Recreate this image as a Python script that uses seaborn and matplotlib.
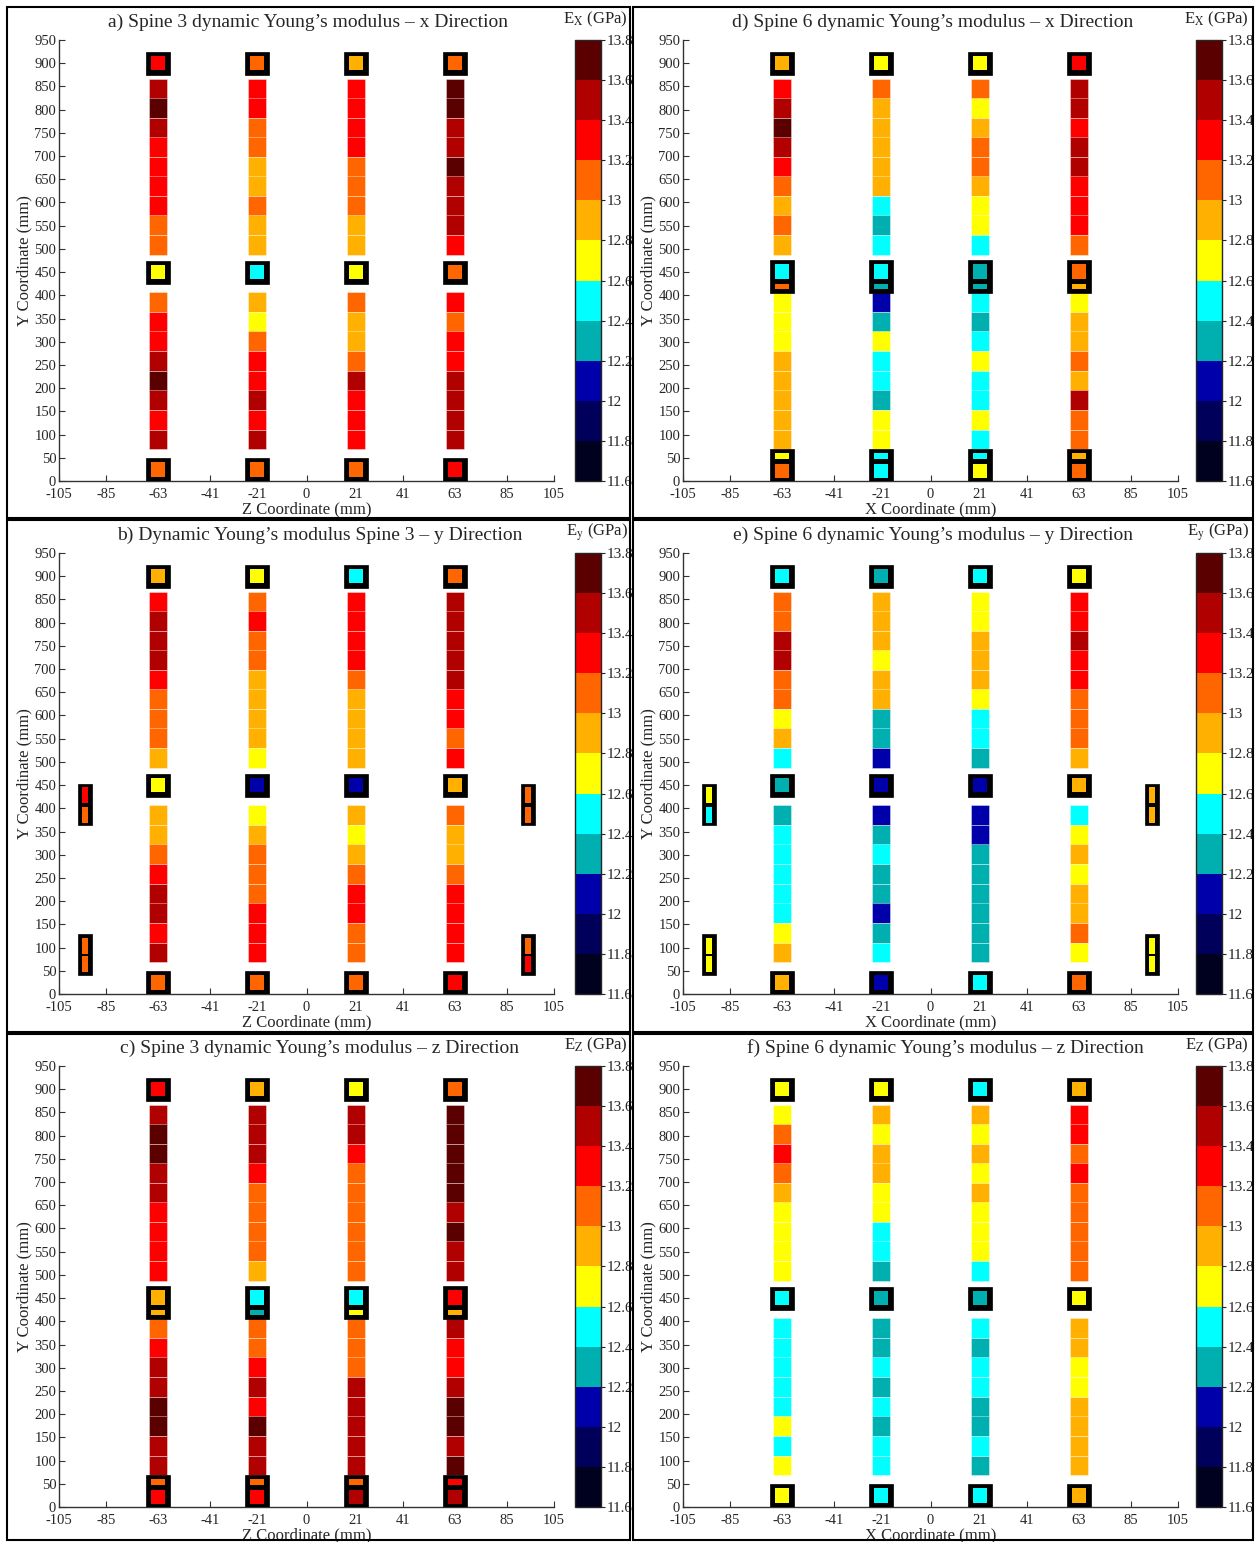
import matplotlib
matplotlib.use("Agg")
import matplotlib.pyplot as plt
from matplotlib.colors import ListedColormap, BoundaryNorm
from matplotlib.cm import ScalarMappable
from matplotlib.patches import Rectangle
import seaborn as sns

sns.set_style("ticks")
plt.rcParams['font.family'] = ['Liberation Serif', 'DejaVu Serif']
plt.rcParams['mathtext.fontset'] = 'stix'
plt.rcParams['axes.unicode_minus'] = False

# colour classes, 11.6 -> 13.8 GPa in 0.2 steps
LEVELS = [11.6, 11.8, 12.0, 12.2, 12.4, 12.6, 12.8, 13.0, 13.2, 13.4, 13.6, 13.8]
CLASS_COLORS = ['#00001f', '#00005a', '#0000aa', '#00afaf', '#00ffff', '#ffff00',
                '#ffb000', '#ff6600', '#ff0000', '#b00000', '#5a0000']

# measuring points (mm)
COLUMNS_X = [-63, -21, 21, 63]
UPPER_Y = [845, 803, 761, 719, 677, 635, 593, 551, 509]
LOWER_Y = [386, 343, 301, 258, 216, 174, 131, 89]
SIDE_X = [-94, 94]
XTICKS = [-105, -85, -63, -41, -21, 0, 21, 41, 63, 85, 105]

# values (GPa), per column, listed from top to bottom
A_UP = [[13.5, 13.7, 13.5, 13.3, 13.3, 13.3, 13.3, 13.1, 13.1],
        [13.3, 13.3, 13.1, 13.1, 12.9, 12.9, 13.1, 12.9, 12.9],
        [13.3, 13.3, 13.3, 13.3, 13.1, 13.1, 13.1, 12.9, 12.9],
        [13.7, 13.7, 13.5, 13.5, 13.7, 13.5, 13.5, 13.5, 13.3]]
A_LO = [[13.1, 13.3, 13.3, 13.5, 13.7, 13.5, 13.3, 13.5],
        [12.9, 12.7, 13.1, 13.3, 13.3, 13.5, 13.3, 13.5],
        [13.1, 12.9, 12.9, 13.1, 13.5, 13.3, 13.3, 13.3],
        [13.3, 13.1, 13.3, 13.3, 13.5, 13.5, 13.5, 13.5]]
A_TOP = [13.3, 13.1, 12.9, 13.1]
A_MID = [12.7, 12.5, 12.7, 13.1]
A_BOT = [13.1, 13.1, 13.1, 13.3]

B_UP = [[13.3, 13.5, 13.5, 13.5, 13.3, 13.1, 13.1, 13.1, 12.9],
        [13.1, 13.3, 13.1, 13.1, 12.9, 12.9, 12.9, 12.9, 12.7],
        [13.3, 13.3, 13.3, 13.3, 13.1, 12.9, 12.9, 12.9, 12.9],
        [13.5, 13.5, 13.5, 13.5, 13.5, 13.3, 13.3, 13.1, 13.3]]
B_LO = [[12.9, 12.9, 13.1, 13.3, 13.5, 13.5, 13.3, 13.5],
        [12.7, 12.9, 13.1, 13.1, 13.1, 13.3, 13.3, 13.3],
        [12.9, 12.7, 12.9, 13.1, 13.3, 13.3, 13.1, 13.1],
        [13.1, 12.9, 12.9, 13.1, 13.3, 13.3, 13.3, 13.3]]
B_TOP = [12.9, 12.7, 12.5, 13.1]
B_MID = [12.7, 12.1, 12.1, 12.9]
B_BOT = [13.1, 13.1, 13.1, 13.3]
B_SIDE_UP = [[13.3, 13.1], [13.1, 13.1]]   # left, right
B_SIDE_LO = [[13.1, 13.1], [13.1, 13.3]]

C_UP = [[13.5, 13.7, 13.7, 13.5, 13.5, 13.3, 13.3, 13.3, 13.3],
        [13.5, 13.5, 13.5, 13.3, 13.1, 13.1, 13.1, 13.1, 12.9],
        [13.5, 13.5, 13.3, 13.1, 13.1, 13.1, 13.1, 13.1, 13.1],
        [13.7, 13.7, 13.7, 13.7, 13.7, 13.5, 13.7, 13.5, 13.5]]
C_LO = [[13.1, 13.3, 13.5, 13.5, 13.7, 13.7, 13.5, 13.5],
        [13.1, 13.1, 13.3, 13.5, 13.3, 13.7, 13.5, 13.5],
        [13.1, 13.1, 13.1, 13.5, 13.5, 13.5, 13.5, 13.5],
        [13.5, 13.3, 13.3, 13.5, 13.7, 13.7, 13.5, 13.7]]
C_TOP = [13.3, 12.9, 12.7, 13.1]
C_MID = [12.9, 12.5, 12.5, 13.3]
C_MID_STRIP = [12.9, 12.3, 12.7, 12.9]
C_BOT = [13.3, 13.3, 13.5, 13.5]
C_BOT_STRIP = [13.1, 13.1, 13.1, 13.3]

D_UP = [[13.3, 13.5, 13.7, 13.5, 13.3, 13.1, 12.9, 13.1, 12.9],
        [13.1, 12.9, 12.9, 12.9, 12.9, 12.9, 12.5, 12.3, 12.5],
        [13.1, 12.7, 12.9, 13.1, 13.1, 12.9, 12.7, 12.7, 12.5],
        [13.5, 13.5, 13.3, 13.5, 13.5, 13.3, 13.3, 13.3, 13.1]]
D_LO = [[12.7, 12.7, 12.7, 12.9, 12.9, 12.9, 12.9, 12.9],
        [12.1, 12.3, 12.7, 12.5, 12.5, 12.3, 12.7, 12.7],
        [12.5, 12.3, 12.5, 12.7, 12.5, 12.5, 12.7, 12.5],
        [12.7, 12.9, 12.9, 13.1, 12.9, 13.5, 13.1, 13.1]]
D_TOP = [12.9, 12.7, 12.7, 13.3]
D_MID = [12.5, 12.5, 12.3, 13.1]
D_MID_STRIP = [13.1, 12.3, 12.3, 12.9]
D_BOT = [13.1, 12.5, 12.7, 13.1]
D_BOT_STRIP = [12.7, 12.5, 12.5, 12.9]

E_UP = [[13.1, 13.1, 13.5, 13.5, 13.1, 13.1, 12.7, 12.9, 12.5],
        [12.9, 12.9, 12.9, 12.7, 12.9, 12.9, 12.3, 12.3, 12.1],
        [12.7, 12.7, 12.9, 12.9, 12.9, 12.7, 12.5, 12.5, 12.3],
        [13.3, 13.3, 13.5, 13.3, 13.3, 13.1, 13.1, 13.1, 12.9]]
E_LO = [[12.3, 12.5, 12.5, 12.5, 12.5, 12.5, 12.7, 12.9],
        [12.1, 12.3, 12.5, 12.3, 12.3, 12.1, 12.3, 12.5],
        [12.1, 12.1, 12.3, 12.3, 12.3, 12.3, 12.3, 12.3],
        [12.5, 12.7, 12.9, 12.7, 12.9, 12.9, 13.1, 12.7]]
E_TOP = [12.5, 12.3, 12.5, 12.7]
E_MID = [12.3, 12.1, 12.1, 12.9]
E_BOT = [12.9, 12.1, 12.5, 13.1]
E_SIDE_UP = [[12.7, 12.5], [12.9, 12.9]]
E_SIDE_LO = [[12.7, 12.7], [12.7, 12.7]]

F_UP = [[12.7, 13.1, 13.3, 13.1, 12.9, 12.7, 12.7, 12.7, 12.7],
        [12.9, 12.7, 12.9, 12.9, 12.7, 12.7, 12.5, 12.5, 12.3],
        [12.9, 12.7, 12.9, 12.7, 12.9, 12.7, 12.7, 12.7, 12.5],
        [13.3, 13.3, 13.1, 13.3, 13.1, 13.1, 13.1, 13.1, 13.1]]
F_LO = [[12.5, 12.5, 12.5, 12.5, 12.5, 12.7, 12.5, 12.7],
        [12.3, 12.3, 12.5, 12.3, 12.5, 12.3, 12.5, 12.5],
        [12.5, 12.3, 12.5, 12.5, 12.3, 12.3, 12.5, 12.3],
        [12.9, 12.9, 12.7, 12.7, 12.9, 12.9, 12.9, 12.9]]
F_TOP = [12.7, 12.7, 12.5, 12.9]
F_MID = [12.5, 12.3, 12.3, 12.7]
F_BOT = [12.7, 12.5, 12.5, 12.9]

TITLES = ['a) Spine 3 dynamic Young\u2019s modulus \u2013 x Direction',
          'b) Dynamic Young\u2019s modulus Spine 3 \u2013 y Direction',
          'c) Spine 3 dynamic Young\u2019s modulus \u2013 z Direction',
          'd) Spine 6 dynamic Young\u2019s modulus \u2013 x Direction',
          'e) Spine 6 dynamic Young\u2019s modulus \u2013 y Direction',
          'f) Spine 6 dynamic Young\u2019s modulus \u2013 z Direction']
CB_LABELS = [r'E$_\mathrm{X}$ (GPa)', r'E$_\mathrm{y}$ (GPa)', r'E$_\mathrm{Z}$ (GPa)']

cmap = ListedColormap(sns.color_palette(CLASS_COLORS))
norm = BoundaryNorm(LEVELS, cmap.N)

W, H = 1255, 1542
fig = plt.figure(figsize=(W / 100, H / 100), dpi=100)


def frac(x0, y0, x1, y1):
    # pixel box (top-left origin) -> figure fraction
    return [x0 / W, 1 - y1 / H, (x1 - x0) / W, (y1 - y0) / H]


def col(v):
    return cmap(norm(v))


def box(ax, x, y0, y1, w_out=10):
    ax.bar(x, y1 - y0, width=w_out, bottom=y0, color='black',
           edgecolor='black', linewidth=0.5, zorder=3)


def fill(ax, x, yc, h, v, w_in=6.2):
    ax.bar(x, h, width=w_in, bottom=yc - h / 2, color=col(v),
           edgecolor='none', linewidth=0, zorder=4)


def draw_panel(ax, up, lo, top, mid, bot, mid_strip=None, bot_strip=None,
               side_up=None, side_lo=None):
    ch = 42.2
    sep = (1, 1, 1, 0.45)
    for i, x in enumerate(COLUMNS_X):
        ax.bar([x] * len(UPPER_Y), [ch] * len(UPPER_Y), width=8,
               bottom=[y - ch / 2 for y in UPPER_Y],
               color=[col(v) for v in up[i]], edgecolor=sep, linewidth=0.6, zorder=2)
        ax.bar([x] * len(LOWER_Y), [ch] * len(LOWER_Y), width=8,
               bottom=[y - ch / 2 for y in LOWER_Y],
               color=[col(v) for v in lo[i]], edgecolor=sep, linewidth=0.6, zorder=2)
        # top end
        box(ax, x, 875, 925)
        fill(ax, x, 900, 31, top[i])
        # middle
        if mid_strip is None:
            box(ax, x, 425, 475)
            fill(ax, x, 450, 31, mid[i])
        else:
            box(ax, x, 405, 477)
            fill(ax, x, 451.5, 31, mid[i])
            fill(ax, x, 419.5, 11, mid_strip[i])
        # bottom
        if bot_strip is None:
            box(ax, x, 0, 50)
            fill(ax, x, 24.5, 31, bot[i])
        else:
            box(ax, x, 0, 69)
            fill(ax, x, 54, 12, bot_strip[i])
            fill(ax, x, 21.5, 32, bot[i])
    if side_up is not None:
        for j, x in enumerate(SIDE_X):
            box(ax, x, 363, 453, w_out=6)
            fill(ax, x, 428, 34, side_up[j][0], w_in=2.6)
            fill(ax, x, 386, 34, side_up[j][1], w_in=2.6)
            box(ax, x, 40, 129, w_out=6)
            fill(ax, x, 104, 34, side_lo[j][0], w_in=2.6)
            fill(ax, x, 64, 34, side_lo[j][1], w_in=2.6)

    ax.set_xlim(-105, 105)
    ax.set_ylim(0, 950)
    ax.set_xticks(XTICKS)
    ax.set_yticks(range(0, 951, 50))
    ax.tick_params(direction='in', length=4, labelsize=10.5, pad=2, color='#333333')
    ax.tick_params(axis='x', pad=5)
    sns.despine(ax=ax)
    for s in ['left', 'bottom']:
        ax.spines[s].set_color('#333333')
        ax.spines[s].set_linewidth(1.0)


panels = [
    (A_UP, A_LO, A_TOP, A_MID, A_BOT, None, None, None, None),
    (B_UP, B_LO, B_TOP, B_MID, B_BOT, None, None, B_SIDE_UP, B_SIDE_LO),
    (C_UP, C_LO, C_TOP, C_MID, C_BOT, C_MID_STRIP, C_BOT_STRIP, None, None),
    (D_UP, D_LO, D_TOP, D_MID, D_BOT, D_MID_STRIP, D_BOT_STRIP, None, None),
    (E_UP, E_LO, E_TOP, E_MID, E_BOT, None, None, E_SIDE_UP, E_SIDE_LO),
    (F_UP, F_LO, F_TOP, F_MID, F_BOT, None, None, None, None),
]

row_tops = [40, 553, 1066]
title_cx = [308, 320, 320, 933, 933, 945]
frames = [(7, 7, 630, 518), (7, 520, 630, 1032), (7, 1034, 630, 1540),
          (633, 7, 1253, 518), (633, 520, 1253, 1032), (633, 1034, 1253, 1540)]

for k, spec in enumerate(panels):
    r, c = k % 3, k // 3
    ax_x0 = 59 if c == 0 else 683
    cb_x0 = 575 if c == 0 else 1196
    yt = row_tops[r]
    ax = fig.add_axes(frac(ax_x0, yt, ax_x0 + 495, yt + 441))
    draw_panel(ax, *spec)
    ax.set_ylabel('Y Coordinate (mm)', fontsize=12, labelpad=1)
    ax.set_xlabel('Z Coordinate (mm)' if c == 0 else 'X Coordinate (mm)', fontsize=12, labelpad=0)

    cax = fig.add_axes(frac(cb_x0, yt, cb_x0 + 26, yt + 441))
    cb = fig.colorbar(ScalarMappable(norm=norm, cmap=cmap), cax=cax, ticks=LEVELS)
    cb.ax.set_yticklabels(['%g' % v for v in LEVELS])
    cb.ax.tick_params(direction='out', length=3, labelsize=11, pad=1)
    cb.outline.set_linewidth(1.0)

    fig.text(title_cx[k] / W, 1 - (yt - 18) / H, TITLES[k], ha='center', va='center', fontsize=14)
    fig.text((cb_x0 + 53) / W, 1 - (yt - 21) / H, CB_LABELS[r], ha='right', va='center', fontsize=12)

    x0, y0, x1, y1 = frames[k]
    fig.add_artist(Rectangle((x0 / W, 1 - y1 / H), (x1 - x0) / W, (y1 - y0) / H,
                             transform=fig.transFigure, fill=False, lw=1.5, ec='black'))

fig.savefig('out.png', dpi=100, facecolor='white')
